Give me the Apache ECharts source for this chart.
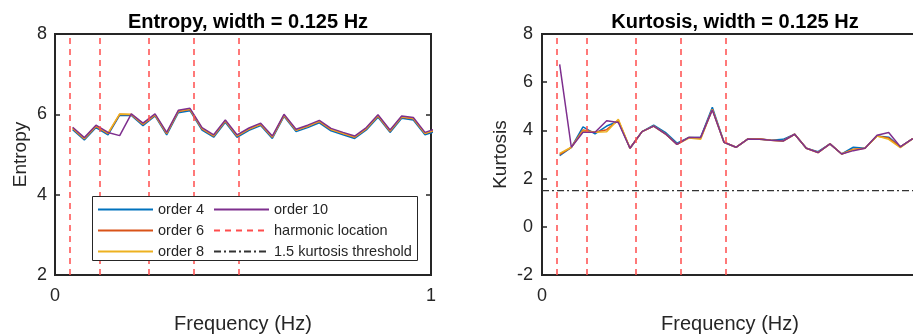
<!DOCTYPE html>
<html>
<head>
<meta charset="utf-8">
<script src="https://cdn.jsdelivr.net/npm/echarts@6/dist/echarts.min.js"></script>
<style>
  html, body { margin: 0; padding: 0; background: #fff; }
  #chart { width: 913px; height: 335px; }
</style>
</head>
<body>
<div id="chart"></div>
<script>
// frequency of each band (Hz)
const freqs = [0.047, 0.078, 0.109, 0.141, 0.172, 0.203, 0.234, 0.266, 0.297, 0.328,
  0.359, 0.391, 0.422, 0.453, 0.484, 0.516, 0.547, 0.578, 0.609, 0.641, 0.672,
  0.703, 0.734, 0.766, 0.797, 0.828, 0.859, 0.891, 0.922, 0.953, 0.984, 1.016]

const harmonics = [0.041, 0.124, 0.247, 0.371, 0.495]
const kurtThreshold = 1.5

const orderNames = ['order 4', 'order 6', 'order 8', 'order 10']
const orderColors = ['#0072BD', '#D95319', '#EDB120', '#7E2F8E']

const entropy4 = [5.62, 5.36, 5.67, 5.49, 5.98, 5.97, 5.72, 5.96, 5.49, 6.04,
  6.09, 5.61, 5.43, 5.80, 5.43, 5.60, 5.72, 5.40, 5.95, 5.57, 5.67,
  5.79, 5.59, 5.49, 5.40, 5.61, 5.93, 5.55, 5.90, 5.86, 5.49, 5.59]
const entropy6 = [5.65, 5.39, 5.70, 5.52, 6.00, 5.99, 5.75, 5.98, 5.52, 6.07,
  6.12, 5.64, 5.46, 5.83, 5.46, 5.63, 5.75, 5.43, 5.97, 5.60, 5.70,
  5.82, 5.62, 5.52, 5.43, 5.64, 5.96, 5.58, 5.93, 5.89, 5.52, 5.62]
const entropy8 = [5.66, 5.40, 5.71, 5.53, 6.01, 6.00, 5.76, 5.99, 5.53, 6.08,
  6.13, 5.65, 5.47, 5.84, 5.47, 5.64, 5.76, 5.44, 5.98, 5.61, 5.71,
  5.83, 5.63, 5.53, 5.44, 5.65, 5.97, 5.59, 5.94, 5.90, 5.53, 5.63]
const entropy10 = [5.68, 5.42, 5.73, 5.55, 5.47, 6.01, 5.78, 6.01, 5.55, 6.10,
  6.15, 5.67, 5.49, 5.86, 5.49, 5.66, 5.78, 5.46, 6.00, 5.63, 5.73,
  5.85, 5.65, 5.55, 5.46, 5.67, 5.99, 5.61, 5.96, 5.92, 5.55, 5.65]

const kurt4 = [2.95, 3.30, 4.15, 3.86, 4.18, 4.38, 3.26, 3.95, 4.22, 3.92,
  3.47, 3.71, 3.71, 4.96, 3.51, 3.30, 3.64, 3.64, 3.59, 3.63, 3.84,
  3.26, 3.12, 3.44, 3.02, 3.30, 3.26, 3.77, 3.72, 3.32, 3.64, 3.72]
const kurt6 = [3.00, 3.30, 4.02, 3.92, 4.03, 4.42, 3.26, 3.95, 4.18, 3.86,
  3.42, 3.71, 3.68, 4.88, 3.51, 3.30, 3.64, 3.65, 3.59, 3.56, 3.84,
  3.26, 3.08, 3.44, 3.02, 3.22, 3.26, 3.77, 3.68, 3.32, 3.64, 3.72]
const kurt8 = [3.05, 3.30, 3.98, 3.92, 3.94, 4.46, 3.26, 3.95, 4.18, 3.86,
  3.42, 3.68, 3.63, 4.88, 3.51, 3.30, 3.64, 3.63, 3.59, 3.56, 3.84,
  3.26, 3.08, 3.44, 3.02, 3.20, 3.26, 3.77, 3.63, 3.28, 3.64, 3.72]
const kurt10 = [6.74, 3.30, 3.92, 3.92, 4.40, 4.33, 3.26, 3.95, 4.18, 3.86,
  3.42, 3.71, 3.71, 4.85, 3.51, 3.30, 3.64, 3.63, 3.59, 3.56, 3.84,
  3.26, 3.08, 3.44, 3.02, 3.16, 3.26, 3.80, 3.91, 3.32, 3.64, 3.72]

const ink = '#262626'
const font = 'Liberation Sans, Arial, sans-serif'

const chart = echarts.init(document.getElementById('chart'))

function orderSeries(values, idx, gridIdx) {
  return {
    name: orderNames[idx],
    type: 'line',
    xAxisIndex: gridIdx,
    yAxisIndex: gridIdx === 0 ? 0 : 2,
    data: freqs.map((f, i) => [f, values[i]]),
    symbol: 'none',
    clip: true,
    lineStyle: { color: orderColors[idx], width: 1.5 },
    itemStyle: { color: orderColors[idx] },
    z: 3,
  }
}

function harmonicSeries(gridIdx) {
  return {
    name: 'harmonic location',
    type: 'line',
    xAxisIndex: gridIdx,
    yAxisIndex: gridIdx === 0 ? 0 : 2,
    data: [],
    symbol: 'none',
    lineStyle: { color: '#FF4D4D', width: 1.5, type: [6, 5] },
    itemStyle: { color: '#FF4D4D' },
    markLine: {
      silent: true,
      symbol: ['none', 'none'],
      label: { show: false },
      lineStyle: { color: '#FF4D4D', width: 1.5, type: [6, 5] },
      data: harmonics.map(h => ({ xAxis: h })),
    },
    z: 2,
  }
}

function xAxisFor(gridIdx) {
  return {
    type: 'value',
    gridIndex: gridIdx,
    min: 0, max: 1, interval: 1,
    name: 'Frequency (Hz)',
    nameLocation: 'middle',
    nameGap: 39,
    nameTextStyle: { color: ink, fontSize: 20, fontFamily: font },
    axisLine: { show: true, onZero: false, lineStyle: { color: ink, width: 2 } },
    axisTick: { show: true, inside: true, length: 5, lineStyle: { color: ink, width: 1.5 } },
    axisLabel: { color: ink, fontSize: 18, fontFamily: font, margin: 12 },
    splitLine: { show: false },
  }
}

const legendText = { color: ink, fontSize: 14.5, fontFamily: font }

chart.setOption({
  animation: false,
  title: [
    { text: 'Entropy, width = 0.125 Hz', left: 243, top: 7, textAlign: 'center',
      textStyle: { color: '#000', fontSize: 20, fontWeight: 'bold', fontFamily: font } },
    { text: 'Kurtosis, width = 0.125 Hz', left: 730, top: 7, textAlign: 'center',
      textStyle: { color: '#000', fontSize: 20, fontWeight: 'bold', fontFamily: font } },
  ],
  grid: [
    { left: 55, width: 376, top: 34, bottom: 60, outerBoundsMode: 'none',
      show: true, borderColor: ink, borderWidth: 2, backgroundColor: '#fff' },
    { left: 542, width: 376, top: 34, bottom: 60, outerBoundsMode: 'none',
      show: true, borderColor: ink, borderWidth: 2, backgroundColor: '#fff' },
  ],
  legend: [
    {
      data: ['order 4', 'order 6', 'order 8'],
      orient: 'vertical', left: 97, top: 202, padding: 0,
      itemWidth: 55, itemHeight: 14, itemGap: 6,
      itemStyle: { opacity: 0 },
      selectedMode: false, textStyle: legendText, z: 8,
    },
    {
      data: ['order 10', 'harmonic location', '1.5 kurtosis threshold'],
      orient: 'vertical', left: 213, top: 202, padding: 0,
      itemWidth: 55, itemHeight: 14, itemGap: 6,
      itemStyle: { opacity: 0 },
      selectedMode: false, textStyle: legendText, z: 8,
    },
  ],
  // legend frame
  graphic: [{
    type: 'rect', left: 92, top: 196, z: 7,
    shape: { width: 325, height: 64 },
    style: { fill: '#fff', stroke: ink, lineWidth: 1 },
  }],
  xAxis: [xAxisFor(0), xAxisFor(1)],
  yAxis: [
    {
      type: 'value', gridIndex: 0, min: 2, max: 8, interval: 2,
      name: 'Entropy', nameLocation: 'middle', nameGap: 25,
      nameTextStyle: { color: ink, fontSize: 19, fontFamily: font },
      axisLine: { show: true, lineStyle: { color: ink, width: 2 } },
      axisTick: { show: true, inside: true, length: 5, lineStyle: { color: ink, width: 1.5 } },
      axisLabel: { color: ink, fontSize: 18, fontFamily: font, margin: 8 },
      splitLine: { show: false },
    },
    {
      type: 'value', gridIndex: 0, position: 'right', min: 2, max: 8, interval: 2,
      axisLine: { show: true, lineStyle: { color: ink, width: 2 } },
      axisTick: { show: true, inside: true, length: 5, lineStyle: { color: ink, width: 1.5 } },
      axisLabel: { show: false },
      splitLine: { show: false },
    },
    {
      type: 'value', gridIndex: 1, min: -2, max: 8, interval: 2,
      name: 'Kurtosis', nameLocation: 'middle', nameGap: 32,
      nameTextStyle: { color: ink, fontSize: 19, fontFamily: font },
      axisLine: { show: true, lineStyle: { color: ink, width: 2 } },
      axisTick: { show: true, inside: true, length: 5, lineStyle: { color: ink, width: 1.5 } },
      axisLabel: { color: ink, fontSize: 18, fontFamily: font, margin: 9 },
      splitLine: { show: false },
    },
  ],
  series: [
    harmonicSeries(0),
    orderSeries(entropy4, 0, 0),
    orderSeries(entropy6, 1, 0),
    orderSeries(entropy8, 2, 0),
    orderSeries(entropy10, 3, 0),
    harmonicSeries(1),
    {
      name: '1.5 kurtosis threshold',
      type: 'line',
      xAxisIndex: 1, yAxisIndex: 2,
      data: [[0, kurtThreshold], [1, kurtThreshold]],
      symbol: 'none',
      lineStyle: { color: '#333333', width: 1.4, type: [7, 3, 2, 3] },
      itemStyle: { color: '#333333' },
      z: 2,
    },
    orderSeries(kurt4, 0, 1),
    orderSeries(kurt6, 1, 1),
    orderSeries(kurt8, 2, 1),
    orderSeries(kurt10, 3, 1),
  ],
})
</script>
</body>
</html>
